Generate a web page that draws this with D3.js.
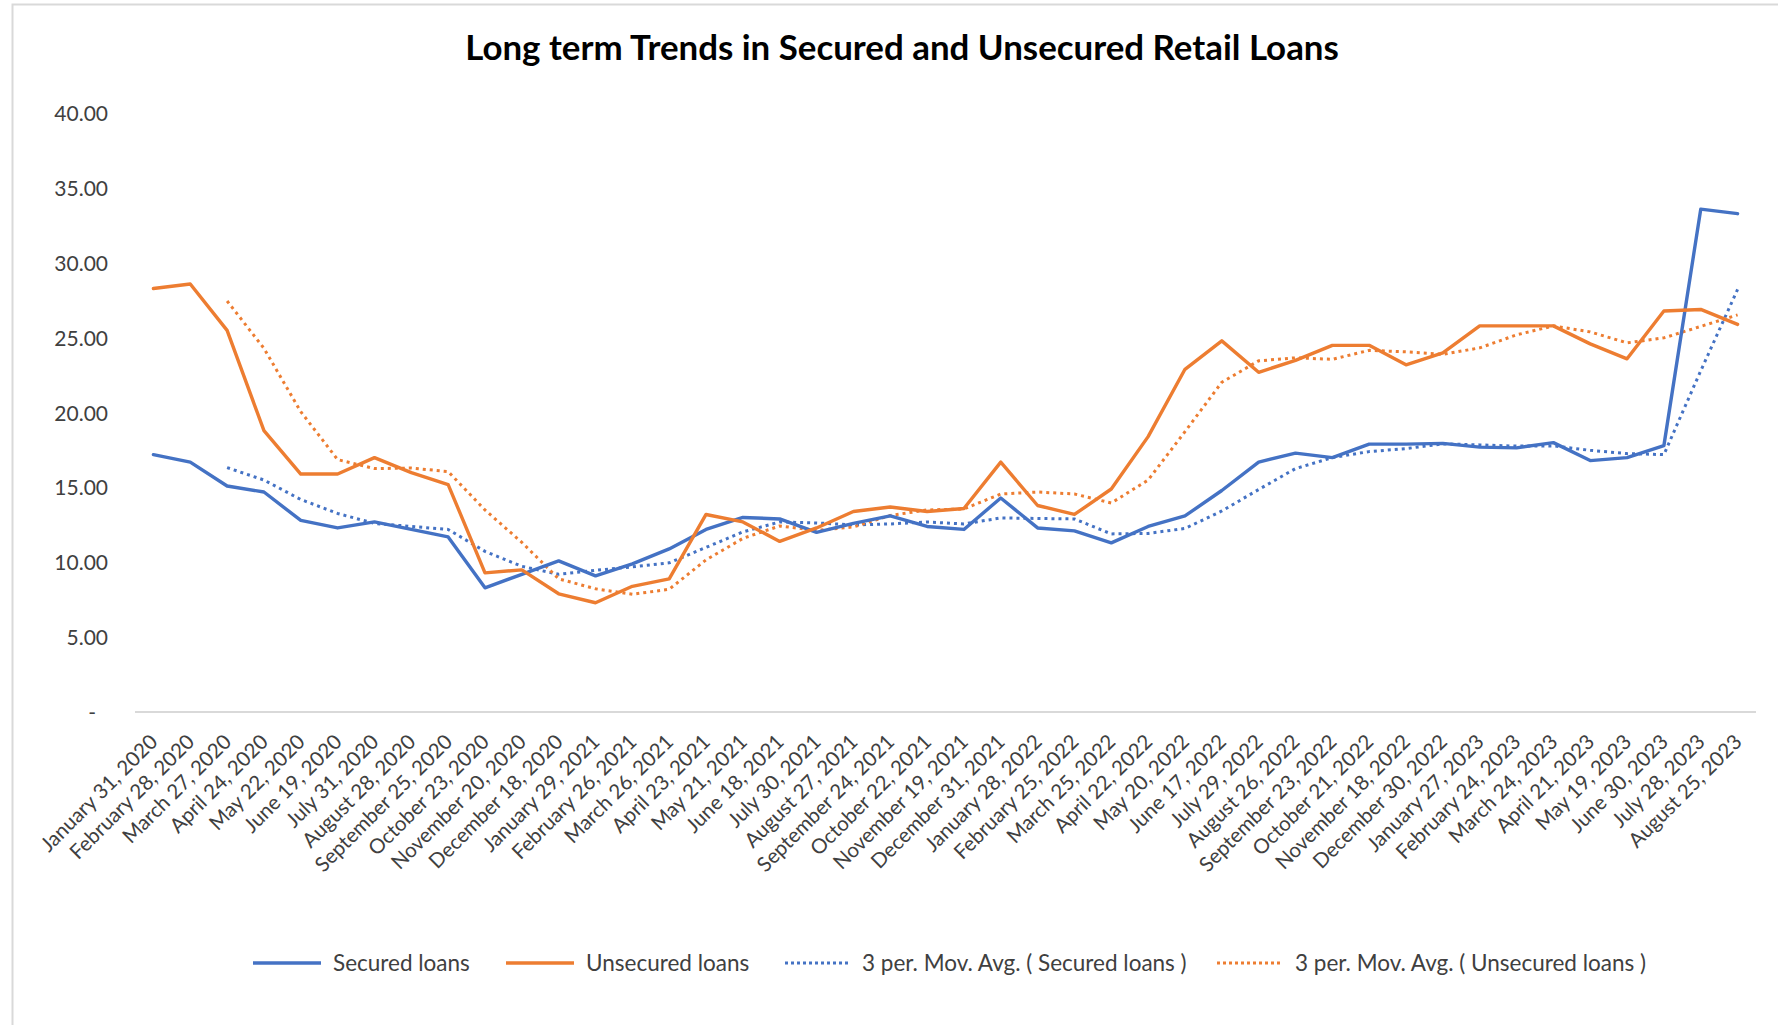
<!DOCTYPE html>
<html>
<head>
<meta charset="utf-8">
<script src="https://cdn.jsdelivr.net/npm/d3@7"></script>
<style>
  html, body { margin: 0; padding: 0; background: #ffffff; }
  svg { display: block; }
  text { font-family: Lato, "Open Sans", "Noto Sans", sans-serif; }
</style>
</head>
<body>
<svg id="chart" width="1778" height="1025"></svg>
<script>
const title = "Long term Trends in Secured and Unsecured Retail Loans";

const categories = [
  "January 31, 2020", "February 28, 2020", "March 27, 2020", "April 24, 2020",
  "May 22, 2020", "June 19, 2020", "July 31, 2020", "August 28, 2020",
  "September 25, 2020", "October 23, 2020", "November 20, 2020", "December 18, 2020",
  "January 29, 2021", "February 26, 2021", "March 26, 2021", "April 23, 2021",
  "May 21, 2021", "June 18, 2021", "July 30, 2021", "August 27, 2021",
  "September 24, 2021", "October 22, 2021", "November 19, 2021", "December 31, 2021",
  "January 28, 2022", "February 25, 2022", "March 25, 2022", "April 22, 2022",
  "May 20, 2022", "June 17, 2022", "July 29, 2022", "August 26, 2022",
  "September 23, 2022", "October 21, 2022", "November 18, 2022", "December 30, 2022",
  "January 27, 2023", "February 24, 2023", "March 24, 2023", "April 21, 2023",
  "May 19, 2023", "June 30, 2023", "July 28, 2023", "August 25, 2023"
];

const securedLoans = [
  17.2, 16.7, 15.1, 14.7, 12.8, 12.3, 12.7, 12.2, 11.7, 8.3, 9.2, 10.1,
  9.1, 9.9, 10.9, 12.2, 13.0, 12.9, 12.0, 12.6, 13.1, 12.4, 12.2, 14.3,
  12.3, 12.1, 11.3, 12.4, 13.1, 14.8, 16.7, 17.3, 17.0, 17.9, 17.9, 17.95,
  17.7, 17.65, 18.0, 16.8, 17.0, 17.8, 33.6, 33.3
];

const unsecuredLoans = [
  28.3, 28.6, 25.5, 18.8, 15.9, 15.9, 17.0, 16.0, 15.2, 9.3, 9.5, 7.9,
  7.3, 8.4, 8.9, 13.2, 12.7, 11.4, 12.3, 13.4, 13.7, 13.4, 13.6, 16.7,
  13.8, 13.2, 14.9, 18.4, 22.9, 24.8, 22.7, 23.5, 24.5, 24.5, 23.2, 24.0,
  25.8, 25.8, 25.8, 24.6, 23.6, 26.8, 26.9, 25.9
];

const yTicks = [0, 5, 10, 15, 20, 25, 30, 35, 40];

const seriesNames = [
  "Secured loans",
  "Unsecured loans",
  "3 per. Mov. Avg. ( Secured loans )",
  "3 per. Mov. Avg. ( Unsecured loans )"
];

const BLUE = "#4472C4";
const ORANGE = "#ED7D31";
const TEXT = "#404040";

// 3-period moving average trendline (as Excel's trendline does)
function movingAverage(values, period) {
  return values.map((v, i) => i < period - 1 ? null : d3.mean(values.slice(i - period + 1, i + 1)));
}
const securedMA = movingAverage(securedLoans, 3);
const unsecuredMA = movingAverage(unsecuredLoans, 3);

const svg = d3.select("#chart");

// chart area border
svg.append("rect")
  .attr("x", 12.5).attr("y", 4.5)
  .attr("width", 1900).attr("height", 1100)
  .attr("fill", "#ffffff")
  .attr("stroke", "#d9d9d9").attr("stroke-width", 2);

const plotLeft = 135, plotRight = 1756, plotTop = 113.4, plotBottom = 712;

const x = d3.scalePoint().domain(categories).range([plotLeft, plotRight]).padding(0.5);
const y = d3.scaleLinear().domain([0, 40]).range([plotBottom, plotTop]);

// title
const t = svg.append("text")
  .attr("x", 902).attr("y", 60)
  .attr("text-anchor", "middle")
  .attr("font-weight", "bold")
  .attr("font-size", 31)
  .attr("fill", "#000000")
  .text(title);
{
  const w = t.node().getComputedTextLength();
  t.attr("font-size", 31 * 874 / w);
}

// y axis (labels only)
const yAxis = d3.axisLeft(y)
  .tickValues(yTicks)
  .tickSize(0)
  .tickPadding(0)
  .tickFormat(d => d === 0 ? "-" : d3.format(".2f")(d));
const gy = svg.append("g").attr("transform", "translate(108,0)").call(yAxis);
gy.select(".domain").remove();
gy.selectAll("text")
  .attr("font-size", 21)
  .attr("fill", TEXT)
  .attr("font-family", "Lato, sans-serif")
  .attr("dy", "0.35em")
  .attr("dx", d => d === 0 ? -12 : 0);

// x axis
const xAxis = d3.axisBottom(x).tickSize(0).tickPadding(0);
const gx = svg.append("g").attr("transform", `translate(0,${plotBottom})`).call(xAxis);
gx.select(".domain")
  .attr("d", `M${plotLeft},0H${plotRight}`)
  .attr("stroke", "#d9d9d9").attr("stroke-width", 2);
gx.selectAll(".tick text")
  .attr("font-size", 20.5)
  .attr("fill", TEXT)
  .attr("font-family", "Lato, sans-serif")
  .attr("text-anchor", "end")
  .attr("y", 0).attr("dy", 0)
  .attr("transform", "translate(5,31) rotate(-45)");

// lines
const line = d3.line()
  .defined(d => d.v != null)
  .x(d => x(d.c))
  .y(d => y(d.v));

const series = [
  { name: seriesNames[0], values: securedLoans, color: BLUE, dash: null },
  { name: seriesNames[1], values: unsecuredLoans, color: ORANGE, dash: null },
  { name: seriesNames[2], values: securedMA, color: BLUE, dash: "3,4" },
  { name: seriesNames[3], values: unsecuredMA, color: ORANGE, dash: "3,4" }
];

const drawOrder = [2, 3, 0, 1];
drawOrder.forEach(i => {
  const s = series[i];
  const data = s.values.map((v, k) => ({ c: categories[k], v }));
  svg.append("path")
    .datum(data)
    .attr("d", line)
    .attr("fill", "none")
    .attr("stroke", s.color)
    .attr("stroke-width", s.dash ? 3 : 3.4)
    .attr("stroke-linejoin", "round")
    .attr("stroke-linecap", s.dash ? "butt" : "round")
    .attr("stroke-dasharray", s.dash);
});

// legend
const legendY = 963;
const legendItems = [
  { x0: 253, x1: 321, tx: 333 },
  { x0: 506, x1: 574, tx: 586 },
  { x0: 785, x1: 850, tx: 862 },
  { x0: 1217, x1: 1283, tx: 1295 }
];
const lg = svg.append("g");
series.forEach((s, i) => {
  const it = legendItems[i];
  lg.append("line")
    .attr("x1", it.x0).attr("x2", it.x1)
    .attr("y1", legendY).attr("y2", legendY)
    .attr("stroke", s.color)
    .attr("stroke-width", s.dash ? 3 : 3.4)
    .attr("stroke-dasharray", s.dash ? "3,3" : null);
  lg.append("text")
    .attr("x", it.tx).attr("y", legendY)
    .attr("dy", "0.35em")
    .attr("font-size", 22.5)
    .attr("fill", TEXT)
    .text(s.name);
});
</script>
</body>
</html>
